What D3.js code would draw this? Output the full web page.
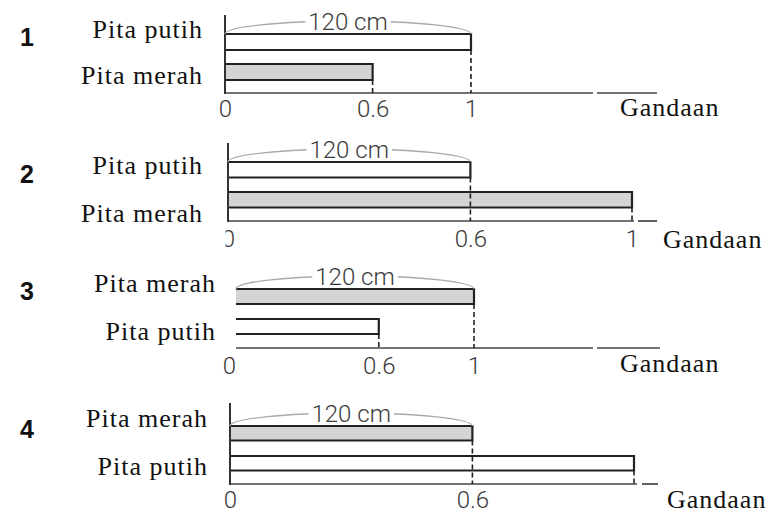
<!DOCTYPE html>
<html><head><meta charset="utf-8">
<script src="https://cdn.jsdelivr.net/npm/d3@7"></script>
<style>body{margin:0;background:#fff}</style>
</head><body>
<svg id="c" width="774" height="513"></svg>
<script>
// ---- data ----
const panelNumbers = ["1", "2", "3", "4"];
const topLabels = ["Pita putih", "Pita putih", "Pita merah", "Pita merah"];
const bottomLabels = ["Pita merah", "Pita merah", "Pita putih", "Pita putih"];
const topValues = [1, 0.6, 1, 0.6];
const bottomValues = [0.6, 1, 0.6, 1];
const tickValues = [[0, 0.6, 1], [0, 0.6, 1], [0, 0.6, 1], [0, 0.6]];
const tickLabels = [["0", "0.6", "1"], ["0", "0.6", "1"], ["0", "0.6", "1"], ["0", "0.6"]];
const lengthLabel = "120 cm";
const axisTitle = "Gandaan";

// ---- layout (positions only) ----
const layout = [
  {x0:225, x1:471, axisTop:15, barTop:34, barBot:64, barH:16, base:93, gap:[593,597], axisEnd:657, vAxis:true,
   numY:45.5, labelX:203, topLabelY:37.5, botLabelY:84, tickPad:7, titleX:620, titleY:116, zeroDx:0, clipX:null},
  {x0:228, x1:632, axisTop:143, barTop:162, barBot:192, barH:15.5, base:221, gap:[634,638], axisEnd:657, vAxis:true,
   numY:183, labelX:203, topLabelY:174, botLabelY:222, tickPad:9, titleX:663, titleY:248, zeroDx:0, clipX:225},
  {x0:236, x1:474, axisTop:285, barTop:289, barBot:319, barH:15, base:348, gap:[593,597], axisEnd:660, vAxis:false,
   numY:300, labelX:216, topLabelY:292, botLabelY:340, tickPad:9, titleX:620, titleY:372, zeroDx:-7, clipX:null},
  {x0:230, x1:634, axisTop:403, barTop:426, barBot:456, barH:14.5, base:484, gap:[637,642], axisEnd:658, vAxis:true,
   numY:438, labelX:208, topLabelY:427, botLabelY:475, tickPad:7, titleX:667, titleY:508, zeroDx:0, clipX:null}
];

const serif = "'Liberation Serif', 'Times New Roman', serif";
const sans = "Roboto, 'Liberation Sans', sans-serif";
const svg = d3.select("#c");
const defs = svg.append("defs");

layout.forEach((L, i) => {
  const g = svg.append("g");
  const x = d3.scaleLinear().domain([0, 1]).range([L.x0, L.x1]);

  // panel number
  g.append("text").attr("x", 20).attr("y", L.numY).text(panelNumbers[i])
    .attr("font-family", "'Liberation Sans', Arial, sans-serif").attr("font-weight", "bold")
    .attr("font-size", 25).attr("fill", "#111");

  // row labels
  [[topLabels[i], L.topLabelY], [bottomLabels[i], L.botLabelY]].forEach(([t, y]) => {
    g.append("text").attr("x", L.labelX).attr("y", y).attr("text-anchor", "end")
      .attr("font-family", serif).attr("font-size", 26).attr("letter-spacing", 1)
      .attr("fill", "#111").text(t);
  });

  const bars = [
    {label: topLabels[i], v: topValues[i], y: L.barTop},
    {label: bottomLabels[i], v: bottomValues[i], y: L.barBot}
  ];

  // bar fills
  g.selectAll("rect.bar").data(bars).join("rect").attr("class", "bar")
    .attr("x", x(0)).attr("y", d => d.y)
    .attr("width", d => x(d.v) - x(0)).attr("height", L.barH)
    .attr("fill", d => d.label === "Pita merah" ? "#d4d4d4" : "#fff");

  // baseline (with small gap)
  g.append("line").attr("x1", x(0)).attr("x2", L.gap[0]).attr("y1", L.base).attr("y2", L.base)
    .attr("stroke", "#444").attr("stroke-width", 1.7);
  g.append("line").attr("x1", L.gap[1]).attr("x2", L.axisEnd).attr("y1", L.base).attr("y2", L.base)
    .attr("stroke", "#444").attr("stroke-width", 1.7);

  // dashed guide lines from bar ends to baseline
  tickValues[i].concat(bars.map(b => b.v)).filter((v, k, a) => v > 0 && a.indexOf(v) === k).forEach(v => {
    const b = bars.find(d => d.v === v);
    if (!b) return;
    g.append("line").attr("x1", x(v)).attr("x2", x(v))
      .attr("y1", b.y + L.barH).attr("y2", L.base)
      .attr("stroke", "#222").attr("stroke-width", 1.6).attr("stroke-dasharray", "5,3");
  });

  // bar outlines (open on the left)
  g.selectAll("path.bar").data(bars).join("path").attr("class", "bar")
    .attr("d", d => `M${x(0)},${d.y}H${x(d.v)}V${d.y + L.barH}H${x(0)}`)
    .attr("fill", "none").attr("stroke", "#222").attr("stroke-width", 2.2);

  // vertical axis
  if (L.vAxis) {
    g.append("line").attr("x1", x(0)).attr("x2", x(0)).attr("y1", L.axisTop).attr("y2", L.base + 1)
      .attr("stroke", "#333").attr("stroke-width", 2);
  }

  // tick labels via d3 axis
  const ax = g.append("g").attr("transform", `translate(0,${L.base})`)
    .call(d3.axisBottom(x).tickValues(tickValues[i])
      .tickFormat((d, j) => tickLabels[i][j]).tickSize(0).tickPadding(L.tickPad));
  ax.select(".domain").remove();
  ax.selectAll("text").attr("font-family", sans).attr("font-weight", 300)
    .attr("font-size", 24).attr("fill", "#3a3a3a");
  ax.selectAll(".tick").filter(d => d === 0).select("text").attr("dx", L.zeroDx);
  if (L.clipX !== null) {
    const id = "clip" + i;
    defs.append("clipPath").attr("id", id).append("rect")
      .attr("x", L.clipX - x(0)).attr("y", -50).attr("width", 774).attr("height", 200);
    ax.selectAll(".tick").filter(d => d === 0).attr("clip-path", `url(#${id})`);
  }

  // axis title
  g.append("text").attr("x", L.titleX).attr("y", L.titleY)
    .attr("font-family", serif).attr("font-size", 26).attr("letter-spacing", 1)
    .attr("fill", "#111").text(axisTitle);

  // 120 cm bracket arc over top bar
  const xa = x(0), xb = x(topValues[i]);
  const rx = (xb - xa) / 2, ry = 13;
  g.append("path").attr("d", `M${xa},${L.barTop}A${rx},${ry} 0 0 1 ${xb},${L.barTop}`)
    .attr("fill", "none").attr("stroke", "#aaa").attr("stroke-width", 1.3);
  const cx = (xa + xb) / 2;
  const bg = g.append("rect").attr("fill", "#fff");
  const t = g.append("text").attr("x", cx).attr("y", L.barTop - 4).attr("text-anchor", "middle")
    .attr("font-family", sans).attr("font-weight", 300).attr("font-size", 24)
    .attr("fill", "#3a3a3a").text(lengthLabel);
  const bb = t.node().getBBox();
  bg.attr("x", bb.x - 3).attr("y", bb.y + 4).attr("width", bb.width + 6).attr("height", bb.height - 8);
});
</script>
</body></html>
